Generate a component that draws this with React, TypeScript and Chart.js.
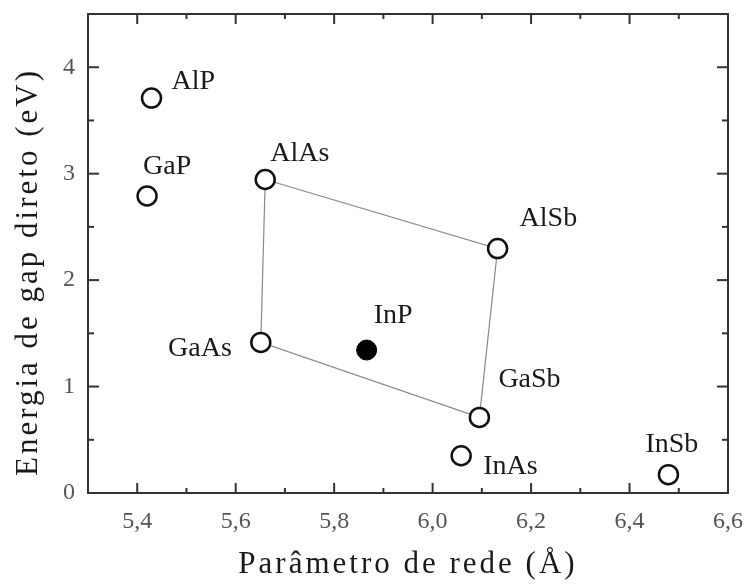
import React, { useEffect, useRef } from "react";
import { Chart, registerables } from "chart.js";

Chart.register(...registerables);

// ---- data ----
const materials = ["AlP", "GaP", "AlAs", "AlSb", "GaAs", "InP", "GaSb", "InAs", "InSb"];
const latticeConstant = [5.429, 5.42, 5.66, 6.132, 5.651, 5.866, 6.095, 6.058, 6.479];
const directGap = [3.71, 2.79, 2.945, 2.296, 1.415, 1.343, 0.71, 0.35, 0.172];
const filledMaterials = ["InP"];
const quadrilateral = ["AlAs", "AlSb", "GaSb", "GaAs", "AlAs"];

const xMajorTicks = [5.4, 5.6, 5.8, 6.0, 6.2, 6.4, 6.6];
const xMinorTicks = [5.5, 5.7, 5.9, 6.1, 6.3, 6.5];
const yMajorTicks = [0, 1, 2, 3, 4];
const yMinorTicks = [0.5, 1.5, 2.5, 3.5];

const xTitle = "Parâmetro de rede (Å)";
const yTitle = "Energia de gap direto (eV)";

// label placement (pixel offsets from the marker: [dx, dy baseline, align])
const labelOffsets: Record<string, [number, number, "left" | "right"]> = {
  AlP: [20, -9, "left"],
  GaP: [-4, -22, "left"],
  AlAs: [5, -19, "left"],
  AlSb: [22, -23, "left"],
  GaAs: [-29, 14, "right"],
  InP: [7, -27, "left"],
  GaSb: [19, -30, "left"],
  InAs: [22, 18, "left"],
  InSb: [-23, -23, "left"],
};

const SERIF = '"Liberation Serif", "Times New Roman", serif';

const decoratePlugin = {
  id: "decorate",
  beforeDatasetsDraw(chart: any) {
    const { ctx, chartArea: a, scales } = chart;
    const xs = scales.x;
    const ys = scales.y;
    ctx.save();
    ctx.strokeStyle = "#333";
    ctx.lineWidth = 2;
    ctx.strokeRect(a.left, a.top, a.right - a.left, a.bottom - a.top);
    const tick = (x1: number, y1: number, x2: number, y2: number) => {
      ctx.beginPath();
      ctx.moveTo(x1, y1);
      ctx.lineTo(x2, y2);
      ctx.stroke();
    };
    ctx.lineWidth = 2;
    xMajorTicks.forEach((v) => {
      const p = xs.getPixelForValue(v);
      tick(p, a.bottom, p, a.bottom - 10);
      tick(p, a.top, p, a.top + 10);
    });
    xMinorTicks.forEach((v) => {
      const p = xs.getPixelForValue(v);
      tick(p, a.bottom, p, a.bottom - 5);
      tick(p, a.top, p, a.top + 5);
    });
    yMajorTicks.forEach((v) => {
      const p = ys.getPixelForValue(v);
      tick(a.left, p, a.left + 11, p);
      tick(a.right, p, a.right - 11, p);
    });
    yMinorTicks.forEach((v) => {
      const p = ys.getPixelForValue(v);
      tick(a.left, p, a.left + 6, p);
      tick(a.right, p, a.right - 6, p);
    });
    ctx.restore();
  },
  afterDatasetsDraw(chart: any) {
    const { ctx, chartArea: a, scales } = chart;
    const xs = scales.x;
    const ys = scales.y;
    ctx.save();
    ctx.fillStyle = "#1a1a1a";
    ctx.font = `28px ${SERIF}`;
    ctx.textBaseline = "alphabetic";
    materials.forEach((m, i) => {
      const px = xs.getPixelForValue(latticeConstant[i]);
      const py = ys.getPixelForValue(directGap[i]);
      const [dx, dy, align] = labelOffsets[m];
      ctx.textAlign = align;
      ctx.fillText(m, px + dx, py + dy);
    });
    // axis titles
    ctx.font = `31px ${SERIF}`;
    (ctx as any).letterSpacing = "3px";
    ctx.textAlign = "center";
    ctx.textBaseline = "middle";
    ctx.fillText(xTitle, (a.left + a.right) / 2, 565);
    ctx.translate(29, 272);
    ctx.rotate(-Math.PI / 2);
    ctx.fillText(yTitle, 0, 0);
    ctx.restore();
  },
};

const noPad = (s: any) => {
  s.paddingTop = 0;
  s.paddingBottom = 0;
  s.paddingLeft = 0;
  s.paddingRight = 0;
};

export default function App() {
  const ref = useRef<HTMLCanvasElement>(null);
  useEffect(() => {
    document.body.style.margin = "0";
    const points = materials.map((m, i) => ({ x: latticeConstant[i], y: directGap[i], m }));
    const open = points.filter((p) => !filledMaterials.includes(p.m));
    const filled = points.filter((p) => filledMaterials.includes(p.m));
    const quad = quadrilateral.map((m) => points[materials.indexOf(m)]);
    const chart = new Chart(ref.current!, {
      type: "scatter",
      data: {
        datasets: [
          {
            type: "line",
            data: quad,
            borderColor: "#8a8a8a",
            borderWidth: 1.2,
            pointRadius: 0,
            fill: false,
            tension: 0,
            order: 3,
          } as any,
          {
            data: open,
            pointRadius: 9.5,
            pointBorderWidth: 2.5,
            pointBackgroundColor: "#ffffff",
            pointBorderColor: "#111111",
            order: 1,
          },
          {
            data: filled,
            pointRadius: 10,
            pointBorderWidth: 1,
            pointBackgroundColor: "#000000",
            pointBorderColor: "#000000",
            order: 1,
          },
        ],
      },
      options: {
        responsive: false,
        animation: false,
        layout: { padding: { top: 14, right: 18, left: 0, bottom: 0 } },
        plugins: { legend: { display: false }, tooltip: { enabled: false } },
        scales: {
          x: {
            type: "linear",
            min: 5.3,
            max: 6.6,
            afterFit: (s: any) => {
              s.height = 92;
              noPad(s);
            },
            afterBuildTicks: (s: any) => {
              s.ticks = xMajorTicks.map((v) => ({ value: v }));
            },
            grid: { display: false, drawTicks: false },
            border: { display: false },
            ticks: {
              padding: 14,
              color: "#555",
              font: { family: SERIF, size: 24 },
              callback: (v: any) => Number(v).toFixed(1).replace(".", ","),
            },
          },
          y: {
            type: "linear",
            min: 0,
            max: 4.5,
            afterFit: (s: any) => {
              s.width = 88;
              noPad(s);
            },
            afterBuildTicks: (s: any) => {
              s.ticks = yMajorTicks.map((v) => ({ value: v }));
            },
            grid: { display: false, drawTicks: false },
            border: { display: false },
            ticks: {
              padding: 13,
              color: "#555",
              font: { family: SERIF, size: 24 },
              callback: (v: any) => String(v),
            },
          },
        },
      },
      plugins: [decoratePlugin],
    });
    return () => chart.destroy();
  }, []);
  return (
    <div style={{ width: 746, height: 585, background: "#fff" }}>
      <canvas ref={ref} width={746} height={585} />
    </div>
  );
}
